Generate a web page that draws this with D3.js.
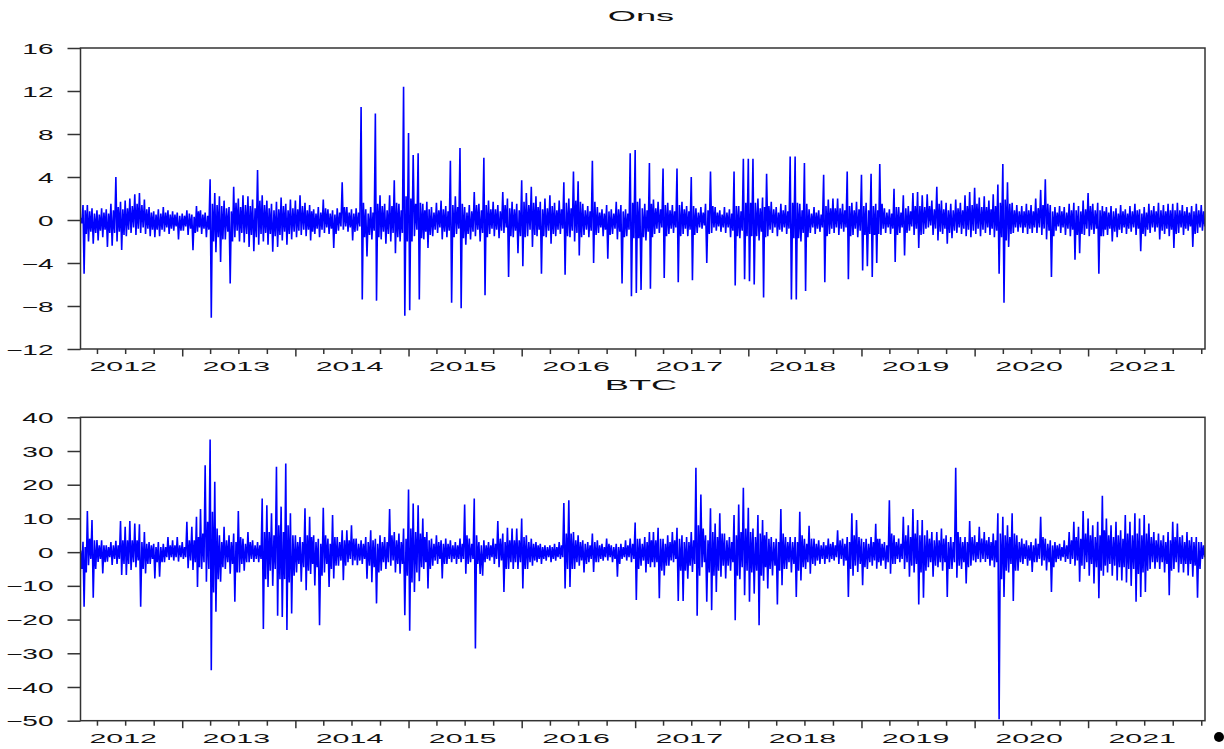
<!DOCTYPE html>
<html lang="en">
<head>
<meta charset="utf-8">
<script src="https://cdn.jsdelivr.net/npm/d3@7"></script>
<title>Ons and BTC returns</title>
<style>
  body { margin: 0; background: #fff; }
  svg { display: block; }
  text { font-family: "Liberation Sans", Arial, sans-serif; fill: #111; }
</style>
</head>
<body>
<div id="chart"></div>
<script>
// half-month summaries of the daily returns
// first bin starts 2012-02-01, one bin per half month, last bin 2022-01-01
// High / Low = extremes of the bin, High2 / Low2 = edges of the dense core
var onsHigh = [0.3,1.4,1.4,1.1,0.9,1.1,1.0,1.5,4.0,1.7,1.8,2.0,2.4,2.5,1.9,1.2,0.8,1.0,1.2,0.9,
  0.8,0.7,0.6,0.9,0.5,1.3,0.9,0.7,3.8,2.5,2.2,1.8,1.2,3.1,2.0,2.3,2.2,1.9,4.65,2.3,
  1.8,1.5,1.7,2.1,1.5,1.9,1.8,2.3,1.6,1.4,1.0,1.2,1.9,1.0,0.9,1.1,3.5,1.2,1.0,1.1,
  10.5,1.0,1.2,9.9,2.3,1.5,2.3,3.7,1.5,12.4,8.1,6.05,6.2,1.5,1.7,1.2,1.6,1.8,1.3,5.5,
  2.2,6.7,1.2,1.4,2.6,1.5,5.8,1.8,1.7,1.4,2.6,2.0,1.7,1.5,3.7,2.5,3.1,2.2,1.7,2.0,
  2.3,1.6,1.8,3.5,2.0,4.5,3.6,1.5,1.3,5.5,1.2,1.0,1.4,1.0,1.7,1.4,1.0,6.2,6.5,2.0,
  1.5,5.3,1.9,1.7,4.8,1.6,1.4,4.8,1.7,1.3,4.0,1.1,1.2,1.5,4.5,1.2,0.9,1.2,1.0,4.5,
  1.3,5.7,5.7,5.7,2.0,2.1,4.3,1.7,1.2,1.5,1.4,5.9,5.9,1.5,5.3,1.0,1.2,0.9,4.2,1.9,
  2.0,2.0,1.5,4.5,1.6,1.7,4.2,1.6,4.3,1.5,5.2,1.1,1.0,2.9,1.2,2.3,1.3,2.5,2.6,2.3,
  2.4,1.8,3.1,1.8,1.6,1.5,1.9,1.6,2.3,2.6,3.0,2.1,2.2,1.8,2.4,3.3,5.2,3.5,1.6,1.4,
  1.3,1.5,1.4,2.0,2.8,3.8,1.4,1.2,1.3,1.2,1.5,1.6,1.3,1.8,2.5,1.5,1.6,1.3,1.2,1.3,
  1.1,1.4,1.0,1.3,1.5,1.0,1.2,1.5,1.3,1.6,1.4,1.5,1.5,1.6,1.4,1.2,1.3,1.5,1.4];
var onsLow = [-0.5,-5.0,-2.0,-2.2,-1.9,-1.6,-2.5,-2.4,-2.0,-2.8,-1.5,-1.2,-1.4,-1.2,-1.3,-1.5,-1.6,-1.5,-1.1,-1.3,
  -1.0,-1.8,-1.0,-1.4,-2.8,-1.1,-1.3,-1.6,-9.1,-3.0,-3.9,-1.8,-5.9,-1.6,-2.0,-2.1,-2.5,-2.9,-2.3,-2.0,
  -2.3,-2.95,-2.5,-1.9,-2.3,-1.8,-1.6,-1.4,-1.5,-1.9,-1.3,-1.6,-1.2,-1.3,-2.6,-1.0,-0.9,-1.1,-1.9,-1.0,
  -7.4,-3.4,-1.8,-7.5,-1.8,-2.2,-2.0,-3.1,-2.0,-8.9,-8.4,-1.5,-7.4,-1.8,-2.6,-1.5,-1.2,-1.8,-1.6,-7.7,
  -1.3,-8.2,-2.3,-1.8,-1.5,-2.0,-7.0,-1.3,-1.5,-1.7,-1.2,-5.3,-1.6,-3.1,-4.3,-1.5,-2.5,-1.5,-5.0,-1.6,
  -2.2,-1.5,-1.3,-5.1,-1.6,-2.0,-3.3,-1.4,-1.6,-4.0,-1.2,-1.5,-3.6,-1.3,-1.8,-5.9,-1.5,-7.1,-6.8,-6.5,
  -1.9,-6.4,-1.3,-1.2,-5.4,-1.3,-1.2,-5.8,-1.3,-1.5,-5.6,-1.2,-0.8,-4.0,-1.2,-1.0,-1.1,-1.2,-1.6,-6.1,
  -1.7,-5.5,-5.7,-6.0,-1.9,-7.2,-1.5,-1.2,-1.5,-1.1,-1.3,-7.4,-7.4,-2.0,-6.6,-1.2,-1.3,-1.1,-5.8,-1.3,
  -1.2,-1.4,-1.1,-5.5,-1.4,-1.6,-4.7,-4.3,-5.3,-4.0,-1.4,-1.2,-1.3,-3.9,-1.2,-3.3,-1.0,-1.4,-2.6,-1.3,
  -0.7,-1.4,-1.9,-1.3,-2.2,-1.7,-1.2,-1.3,-1.5,-1.6,-1.3,-1.5,-1.2,-1.4,-1.6,-5.0,-7.7,-2.5,-1.2,-1.1,
  -1.2,-1.3,-1.2,-1.2,-1.4,-1.8,-5.3,-1.0,-1.2,-1.4,-1.5,-3.7,-3.1,-1.4,-1.5,-1.3,-5.0,-1.5,-1.4,-2.0,
  -1.6,-1.2,-1.3,-1.1,-1.4,-2.9,-1.5,-1.2,-1.1,-1.8,-1.3,-1.5,-2.6,-1.2,-1.4,-1.0,-2.5,-1.2,-1.0];
var onsHigh2 = [0.2,0.9,0.8,0.6,0.5,0.7,0.6,0.9,1.2,1.0,1.1,1.3,1.5,1.4,1.0,0.7,0.5,0.6,0.7,0.5,
  0.5,0.4,0.4,0.6,0.3,0.8,0.5,0.4,1.5,1.4,1.3,1.1,0.8,1.6,1.2,1.4,1.3,1.1,1.8,1.4,
  1.1,0.9,1.0,1.3,0.9,1.1,1.0,1.3,0.9,0.8,0.6,0.7,1.1,0.6,0.5,0.7,1.2,0.7,0.6,0.7,
  1.6,0.6,0.7,1.5,1.3,0.9,1.3,1.6,0.9,2.2,2.0,1.5,1.6,0.9,1.0,0.7,0.9,1.0,0.8,1.4,
  1.2,1.5,0.7,0.8,1.4,0.9,1.4,1.0,1.0,0.8,1.4,1.1,1.0,0.9,1.7,1.4,1.6,1.2,1.0,1.1,
  1.3,0.9,1.0,1.6,1.1,1.8,1.7,0.9,0.8,1.7,0.7,0.6,0.8,0.6,1.0,0.8,0.6,1.6,1.7,1.1,
  0.9,1.5,1.1,1.0,1.4,0.9,0.8,1.4,1.0,0.8,1.3,0.7,0.7,0.9,1.3,0.7,0.5,0.7,0.6,1.3,
  0.8,1.6,1.6,1.6,1.1,1.2,1.3,1.0,0.7,0.9,0.8,1.6,1.6,0.9,1.5,0.6,0.7,0.5,1.3,1.1,
  1.1,1.1,0.9,1.3,0.9,1.0,1.3,0.9,1.3,0.9,1.5,0.7,0.6,1.2,0.7,1.1,0.8,1.3,1.3,1.2,
  1.3,1.0,1.5,1.0,0.9,0.9,1.1,0.9,1.3,1.4,1.5,1.2,1.2,1.0,1.3,1.6,1.9,1.5,0.9,0.8,
  0.8,0.9,0.8,1.1,1.4,1.5,0.8,0.7,0.8,0.7,0.9,0.9,0.8,1.0,1.3,0.9,0.9,0.8,0.7,0.8,
  0.6,0.8,0.6,0.8,0.9,0.6,0.7,0.9,0.8,0.9,0.8,0.9,0.9,0.9,0.8,0.7,0.8,0.9,0.8];
var onsLow2 = [-0.3,-1.3,-1.1,-1.2,-1.0,-0.9,-1.2,-1.2,-1.1,-1.4,-0.9,-0.7,-0.8,-0.7,-0.8,-0.9,-0.9,-0.9,-0.7,-0.8,
  -0.6,-1.0,-0.6,-0.8,-1.2,-0.7,-0.8,-0.9,-2.0,-1.6,-1.8,-1.1,-2.0,-1.0,-1.2,-1.3,-1.4,-1.6,-1.3,-1.2,
  -1.3,-1.5,-1.4,-1.1,-1.3,-1.1,-1.0,-0.9,-0.9,-1.1,-0.8,-0.9,-0.7,-0.8,-1.3,-0.6,-0.6,-0.7,-1.1,-0.6,
  -1.6,-1.4,-1.0,-1.6,-1.1,-1.3,-1.2,-1.6,-1.2,-2.0,-2.0,-0.9,-1.7,-1.1,-1.4,-0.9,-0.7,-1.1,-1.0,-1.6,
  -0.8,-1.7,-1.3,-1.1,-0.9,-1.2,-1.6,-0.8,-0.9,-1.0,-0.7,-1.5,-1.0,-1.5,-1.6,-0.9,-1.4,-0.9,-1.5,-1.0,
  -1.3,-0.9,-0.8,-1.5,-1.0,-1.2,-1.6,-0.9,-1.0,-1.4,-0.7,-0.9,-1.4,-0.8,-1.1,-1.6,-0.9,-1.7,-1.7,-1.6,
  -1.1,-1.6,-0.8,-0.7,-1.5,-0.8,-0.7,-1.5,-0.8,-0.9,-1.4,-0.7,-0.5,-1.3,-0.7,-0.6,-0.7,-0.7,-1.0,-1.5,
  -1.0,-1.5,-1.5,-1.5,-1.1,-1.6,-0.9,-0.7,-0.9,-0.7,-0.8,-1.7,-1.7,-1.2,-1.6,-0.7,-0.8,-0.7,-1.5,-0.8,
  -0.7,-0.8,-0.7,-1.5,-0.8,-1.0,-1.4,-1.3,-1.4,-1.3,-0.8,-0.7,-0.8,-1.4,-0.7,-1.2,-0.6,-0.8,-1.4,-0.8,
  -0.5,-0.8,-1.1,-0.8,-1.2,-1.0,-0.7,-0.8,-0.9,-1.0,-0.8,-0.9,-0.7,-0.8,-1.0,-1.6,-1.9,-1.3,-0.7,-0.7,
  -0.7,-0.8,-0.7,-0.7,-0.8,-1.0,-1.5,-0.6,-0.7,-0.8,-0.9,-1.4,-1.3,-0.8,-0.9,-0.8,-1.5,-0.9,-0.8,-1.1,
  -0.9,-0.7,-0.8,-0.7,-0.8,-1.3,-0.9,-0.7,-0.7,-1.0,-0.8,-0.9,-1.3,-0.7,-0.8,-0.6,-1.3,-0.7,-0.6];

var btcHigh = [1.0,3.1,12.2,9.5,3.6,3.5,2.0,3.0,3.4,9.2,7.5,9.2,8.5,8.3,6.0,3.0,2.5,3.0,2.5,4.5,
  3.5,4.5,3.0,9.0,7.5,10.5,12.8,25.8,33.4,20.9,5.0,7.5,5.0,5.5,12.2,4.0,6.0,3.5,3.0,15.9,
  13.9,11.5,25.3,13.5,26.3,11.5,5.0,4.5,13.0,10.5,5.0,4.0,13.2,4.0,11.0,4.5,6.5,6.5,8.0,4.0,
  3.5,4.5,6.5,4.0,5.0,4.5,12.8,6.0,5.5,7.0,18.6,14.4,13.9,10.0,6.0,4.0,5.0,3.5,4.0,3.5,
  3.0,4.0,14.1,4.0,15.9,3.0,3.5,3.0,4.0,9.2,5.5,7.2,7.0,7.0,10.0,5.0,4.0,3.0,2.5,2.0,
  2.0,2.5,3.0,14.6,15.4,6.0,5.0,3.5,3.0,5.5,3.5,2.5,4.0,2.0,2.5,2.5,3.5,4.0,8.8,4.0,
  4.5,6.0,6.0,7.2,4.0,5.0,6.0,7.2,5.0,4.5,6.0,25.0,17.1,5.0,13.0,8.5,11.5,5.5,4.5,11.0,
  14.1,19.1,13.2,7.0,11.0,9.5,6.0,4.5,4.0,12.8,4.5,4.5,4.5,12.0,4.0,7.8,4.0,3.5,3.0,4.0,
  3.0,6.5,4.0,4.5,11.5,9.5,4.0,4.0,4.5,8.4,4.0,3.0,15.4,5.0,4.0,10.5,8.0,12.8,9.5,9.5,
  6.5,6.0,6.0,7.0,5.0,4.5,25.0,4.5,4.5,9.2,5.0,7.5,6.0,4.5,5.5,11.5,10.5,8.0,11.5,5.0,
  4.0,3.5,3.0,4.0,10.5,4.0,3.5,3.0,2.5,3.5,6.0,9.0,7.5,12.2,10.0,8.0,9.0,16.7,10.0,8.0,
  9.0,6.5,11.0,9.0,11.5,10.0,11.0,8.5,6.0,5.5,5.0,6.0,9.0,8.5,5.0,6.0,4.5,4.5,3.0];
var btcLow = [-16.2,-16.2,-3.9,-13.5,-2.9,-6.3,-2.8,-3.8,-3.5,-6.8,-6.8,-5.3,-4.5,-16.2,-6.3,-3.5,-7.8,-7.3,-3.0,-2.3,
  -2.5,-2.8,-2.0,-4.8,-5.3,-10.3,-5.0,-8.8,-35.0,-17.7,-8.8,-5.0,-6.4,-14.7,-6.0,-5.5,-3.0,-2.9,-3.0,-22.8,
  -10.3,-10.0,-18.9,-19.2,-23.1,-18.2,-6.0,-8.8,-11.3,-6.5,-9.9,-21.7,-6.0,-10.3,-7.8,-4.0,-8.3,-3.0,-3.9,-3.9,
  -3.5,-7.9,-8.9,-15.2,-5.5,-5.0,-4.0,-6.0,-6.4,-18.7,-23.3,-11.8,-8.6,-5.0,-10.8,-4.0,-3.5,-7.8,-3.5,-3.0,
  -3.5,-3.0,-6.4,-3.0,-28.6,-6.5,-3.0,-2.5,-3.5,-4.5,-11.8,-5.0,-5.0,-5.0,-10.8,-5.0,-4.0,-3.0,-3.5,-2.5,
  -3.0,-2.5,-2.0,-10.8,-10.3,-5.0,-4.0,-6.0,-3.0,-5.9,-3.0,-2.5,-2.5,-3.0,-7.3,-2.0,-2.5,-3.0,-14.2,-4.0,
  -6.0,-4.5,-4.5,-13.7,-6.9,-4.0,-3.0,-14.5,-14.5,-7.9,-5.9,-18.9,-4.5,-14.7,-17.2,-11.8,-7.3,-7.8,-5.5,-20.2,
  -8.0,-12.8,-14.7,-12.3,-21.7,-8.5,-10.8,-6.9,-15.5,-9.8,-5.0,-6.0,-13.3,-8.4,-5.0,-6.4,-4.0,-3.5,-3.5,-3.0,
  -2.5,-3.5,-4.0,-13.3,-7.0,-5.9,-9.8,-5.0,-4.0,-4.9,-4.0,-5.0,-6.4,-3.5,-3.0,-5.0,-7.3,-6.0,-15.5,-13.5,
  -4.5,-7.3,-4.5,-5.5,-13.3,-5.0,-7.6,-5.0,-9.3,-4.0,-3.0,-3.0,-2.9,-4.0,-4.5,-49.6,-13.3,-6.0,-14.5,-5.5,
  -3.5,-4.0,-5.9,-3.0,-4.0,-5.4,-11.8,-3.0,-2.5,-2.9,-3.5,-4.0,-8.8,-5.0,-7.0,-9.3,-13.7,-7.0,-6.0,-7.0,
  -8.4,-8.4,-9.0,-10.0,-14.7,-13.3,-11.8,-5.0,-4.9,-5.0,-6.0,-12.8,-5.0,-6.0,-6.0,-6.9,-7.3,-13.5,-2.0];
var btcHigh2 = [0.5,1.5,4.0,3.5,2.0,2.0,1.5,2.0,2.0,3.5,3.5,3.5,3.5,3.0,2.5,2.0,1.5,1.5,1.5,2.0,
  2.0,2.0,1.5,3.5,3.5,4.5,5.5,9.0,12.0,7.0,3.0,3.5,3.0,3.0,4.5,2.5,3.0,2.0,2.0,6.0,
  6.0,5.0,8.0,6.0,8.0,5.0,3.0,3.0,5.0,4.5,3.0,2.5,5.0,2.5,4.5,3.0,3.5,3.5,4.0,2.5,
  2.5,3.0,3.5,2.5,3.0,3.0,5.0,3.5,3.0,4.0,7.0,6.0,5.5,4.5,3.5,2.5,3.0,2.5,2.5,2.0,
  2.0,2.5,5.0,2.5,5.0,2.0,2.0,2.0,2.5,4.0,3.0,3.5,3.5,3.5,4.5,3.0,2.5,2.0,1.5,1.5,
  1.5,1.5,2.0,5.5,5.5,3.5,3.0,2.5,2.0,3.0,2.0,1.5,2.5,1.5,1.5,1.5,2.0,2.5,4.0,2.5,
  3.0,3.5,3.5,4.0,2.5,3.0,3.5,4.0,3.0,3.0,3.5,8.0,7.0,3.5,6.0,4.5,5.5,3.5,3.0,5.0,
  6.0,7.0,6.0,4.5,5.5,5.0,4.0,3.0,3.0,5.5,3.0,3.0,3.0,5.0,2.5,4.0,2.5,2.0,2.0,2.5,
  2.0,3.5,2.5,3.0,5.0,4.5,3.0,2.5,3.0,4.0,2.5,2.0,5.5,3.0,2.5,5.0,4.5,5.5,5.0,5.0,
  4.0,3.5,3.5,4.0,3.0,3.0,6.0,3.0,3.0,4.5,3.0,4.0,3.5,3.0,3.5,5.5,5.0,4.5,5.5,3.0,
  2.5,2.0,2.0,2.5,4.5,2.5,2.0,2.0,1.5,2.0,3.5,4.5,4.0,5.5,5.0,4.5,5.0,6.5,5.0,4.5,
  5.0,4.0,5.5,5.0,5.5,5.0,5.5,4.5,3.5,3.5,3.0,3.5,4.5,4.5,3.0,3.5,3.0,3.0,2.0];
var btcLow2 = [-5.0,-6.0,-2.0,-5.0,-2.0,-3.0,-1.5,-2.0,-2.0,-3.5,-3.5,-3.0,-2.5,-5.0,-3.5,-2.0,-3.0,-3.0,-1.5,-1.5,
  -1.5,-1.5,-1.5,-2.5,-3.0,-4.5,-3.0,-5.0,-12.0,-8.0,-4.5,-3.0,-3.5,-6.0,-3.5,-3.0,-2.0,-2.0,-2.0,-8.0,
  -5.5,-5.0,-8.0,-8.0,-9.0,-7.0,-3.5,-4.5,-5.5,-3.5,-4.5,-7.0,-3.5,-5.0,-4.0,-2.5,-4.0,-2.0,-2.5,-2.5,
  -2.0,-4.0,-4.5,-6.0,-3.0,-3.0,-2.5,-3.5,-3.5,-7.0,-9.0,-6.0,-4.5,-3.0,-5.0,-2.5,-2.0,-3.5,-2.0,-2.0,
  -2.0,-2.0,-3.5,-2.0,-3.5,-7.0,-2.0,-1.5,-2.0,-2.5,-5.0,-3.0,-3.0,-3.0,-5.0,-3.0,-2.5,-2.0,-2.0,-1.5,
  -2.0,-1.5,-1.5,-5.0,-5.0,-3.0,-2.5,-3.5,-2.0,-3.0,-2.0,-1.5,-1.5,-2.0,-3.5,-1.5,-1.5,-2.0,-5.0,-2.5,
  -3.5,-3.0,-3.0,-5.5,-4.0,-2.5,-2.0,-5.5,-5.5,-4.0,-3.5,-7.0,-3.0,-6.0,-7.0,-5.5,-4.0,-4.0,-3.0,-7.0,
  -4.5,-5.5,-6.0,-5.5,-7.0,-4.5,-5.0,-4.0,-5.5,-5.0,-3.0,-3.5,-5.5,-4.5,-3.0,-3.5,-2.5,-2.0,-2.0,-2.0,
  -1.5,-2.0,-2.5,-5.0,-4.0,-3.5,-4.5,-3.0,-2.5,-3.0,-2.5,-3.0,-3.5,-2.0,-2.0,-3.0,-4.0,-3.5,-6.0,-5.5,
  -3.0,-4.0,-3.0,-3.0,-5.0,-3.0,-4.0,-3.0,-4.5,-2.5,-2.0,-2.0,-2.0,-2.5,-3.0,-8.0,-5.5,-3.5,-5.5,-3.0,
  -2.0,-2.5,-3.0,-2.0,-2.5,-3.0,-4.5,-2.0,-1.5,-2.0,-2.0,-2.5,-4.0,-3.0,-3.5,-4.5,-5.5,-4.0,-3.5,-4.0,
  -4.5,-4.5,-5.0,-5.0,-6.5,-6.0,-5.5,-3.0,-3.0,-3.0,-3.5,-5.5,-3.0,-3.5,-3.5,-3.5,-4.0,-5.0,-1.5];

var onsTicks = [16, 12, 8, 4, 0, -4, -8, -12];
var btcTicks = [40, 30, 20, 10, 0, -10, -20, -30, -40, -50];
var years = [2012, 2013, 2014, 2015, 2016, 2017, 2018, 2019, 2020, 2021];

var width = 1224;
var height = 749;
var left = 80.5;
var right = 1205;

// half-month bin dates
var binDates = [];
d3.timeMonth.range(new Date(2012, 1, 1), new Date(2022, 1, 1)).forEach(function(m) {
  binDates.push(m);
  binDates.push(new Date(m.getFullYear(), m.getMonth(), 16));
});
binDates = binDates.slice(0, onsHigh.length);

var x = d3.scaleTime()
  .domain([new Date(2012, 0, 1), new Date(2022, 0, 1)])
  .range([68.75, 1201.25]);

var svg = d3.select("#chart").append("svg")
  .attr("width", width)
  .attr("height", height);

var panels = [
  { name: "Ons", series: [onsHigh, onsLow, onsHigh2, onsLow2], ticks: onsTicks, top: 48, bottom: 349, titleY: 21 },
  { name: "BTC", series: [btcHigh, btcLow, btcHigh2, btcLow2], ticks: btcTicks, top: 417.3, bottom: 720.7, titleY: 390 }
];

panels.forEach(function(p, pi) {
  var y = d3.scaleLinear()
    .domain([d3.min(p.ticks), d3.max(p.ticks)])
    .range([p.bottom, p.top]);

  var clipId = "clip" + pi;
  svg.append("clipPath").attr("id", clipId)
    .append("rect")
    .attr("x", left).attr("y", p.top)
    .attr("width", right - left).attr("height", p.bottom - p.top);

  // four readings per half month, spread through the bin
  var pts = [];
  binDates.forEach(function(d, i) {
    var next = binDates[i + 1] || d3.timeDay.offset(d, 15);
    p.series.forEach(function(s, j) {
      pts.push([new Date(+d + (next - d) * j / 4), s[i]]);
    });
  });

  var line = d3.line()
    .x(function(d) { return x(d[0]); })
    .y(function(d) { return y(d[1]); });

  svg.append("path")
    .datum(pts)
    .attr("clip-path", "url(#" + clipId + ")")
    .attr("d", line)
    .attr("fill", "none")
    .attr("stroke", "#0000ff")
    .attr("stroke-width", 1.6)
    .attr("stroke-linejoin", "bevel");

  // frame
  svg.append("rect")
    .attr("x", left).attr("y", p.top)
    .attr("width", right - left).attr("height", p.bottom - p.top)
    .attr("fill", "none")
    .attr("stroke", "#333")
    .attr("stroke-width", 1.5);

  // y axis
  var yAxis = svg.append("g")
    .attr("transform", "translate(" + left + ",0)")
    .call(d3.axisLeft(y).tickValues(p.ticks).tickSize(13).tickFormat(d3.format("d")));
  yAxis.select(".domain").remove();
  yAxis.selectAll("line").attr("stroke", "#333").attr("stroke-width", 1.5);
  yAxis.selectAll("text")
    .attr("x", null).attr("dy", "0.36em")
    .attr("transform", "translate(-27,0) scale(2,1)")
    .style("font-size", "14px")
    .style("font-family", "'Liberation Sans', Arial, sans-serif")
    .attr("fill", "#111");

  // x axis: quarterly ticks, year ticks longer
  var qTicks = d3.timeMonth.every(3).range(new Date(2012, 3, 1), new Date(2022, 0, 2));
  var xAxis = svg.append("g")
    .attr("transform", "translate(0," + p.bottom + ")")
    .call(d3.axisBottom(x).tickValues(qTicks).tickSize(5).tickFormat(""));
  xAxis.select(".domain").remove();
  xAxis.selectAll("line")
    .attr("stroke", "#333").attr("stroke-width", 1.5)
    .attr("y2", function(d) { return (d.getMonth() === 0 && d.getFullYear() < 2022) ? 7.5 : 5; });

  svg.append("g").selectAll("text")
    .data(years)
    .enter().append("text")
    .attr("transform", function(d) {
      return "translate(" + (x(new Date(d, 6, 1)) - 2) + "," + (p.bottom + 22) + ") scale(2.25,1)";
    })
    .attr("text-anchor", "middle")
    .style("font-size", "13.5px")
    .text(function(d) { return d; });

  // title
  svg.append("text")
    .attr("transform", "translate(641," + p.titleY + ") scale(2.5,1)")
    .attr("text-anchor", "middle")
    .style("font-size", "14.5px")
    .text(p.name);
});

// stray dot at the lower right corner of the picture
svg.append("circle")
  .attr("cx", 1219).attr("cy", 737).attr("r", 5)
  .attr("fill", "#000");
</script>
</body>
</html>
